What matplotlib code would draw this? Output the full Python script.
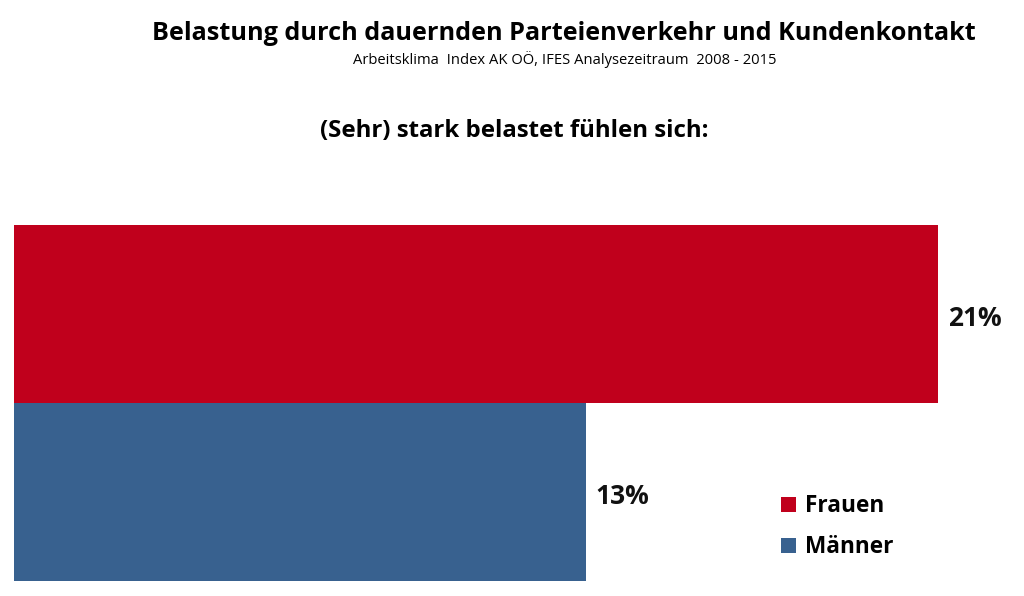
import matplotlib
matplotlib.use("Agg")
import matplotlib.pyplot as plt
from matplotlib.patches import Patch

plt.rcParams['font.family'] = ['Open Sans', 'DejaVu Sans']

# data
categories = ["Männer", "Frauen"]
values = [13, 21]
colors = ["#38618F", "#C0001C"]
value_labels = ["13%", "21%"]

title = "Belastung durch dauernden Parteienverkehr und Kundenkontakt"
subtitle = "Arbeitsklima  Index AK OÖ, IFES Analysezeitraum  2008 - 2015"
heading = "(Sehr) stark belastet fühlen sich:"

W, H = 1024, 596
fig = plt.figure(figsize=(W / 100, H / 100), dpi=100)
fig.patch.set_facecolor('#ffffff')

# axes placed so bars fill rows 225-581 px, zero at x=14 px
ax = fig.add_axes([14 / W, (H - 581) / H, (W - 14) / W, (581 - 225) / H])
ax.set_xlim(0, (W - 14) / 44)
ax.set_ylim(-0.5, 1.5)
ax.axis('off')

ypos = list(range(len(categories)))
ax.barh(ypos, values, height=1.0, color=colors, edgecolor='none')

for y, v, lab in zip(ypos, values, value_labels):
    ax.annotate(lab, (v, y), xytext=(7, -3), textcoords='offset points',
                ha='left', va='center', fontsize=19, fontweight='bold', color='#111111')

fig.text(564 / W, 1 - 34 / H, title, ha='center', va='center', fontsize=18.2,
         fontweight='bold', color='#000000')
fig.text(565 / W, 1 - 60 / H, subtitle, ha='center', va='center', fontsize=10.6, color='#000000')
fig.text(514 / W, 1 - 131 / H, heading, ha='center', va='center', fontsize=17.3,
         fontweight='bold', color='#000000')

handles = [Patch(facecolor=colors[1], label=categories[1]),
           Patch(facecolor=colors[0], label=categories[0])]
fig.legend(handles=handles, loc='upper left', bbox_to_anchor=(761 / W, 1 - 474 / H),
           frameon=False, prop={'size': 16.3, 'weight': 'bold'},
           handlelength=0.66, handleheight=0.66, handletextpad=0.4, labelspacing=0.75)

fig.savefig('out.png', dpi=100, facecolor='#ffffff')
